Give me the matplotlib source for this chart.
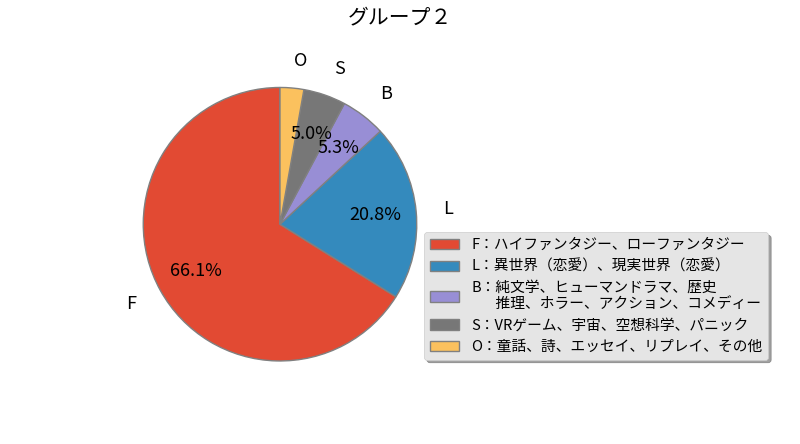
import matplotlib
matplotlib.use("Agg")
import matplotlib.pyplot as plt

plt.style.use('ggplot')
plt.rcParams['font.family'] = ['Noto Sans CJK JP', 'DejaVu Sans']

labels = ['F', 'L', 'B', 'S', 'O']
values = [66.1, 20.8, 5.3, 5.0, 2.8]
legend_labels = [
    'F：ハイファンタジー、ローファンタジー',
    'L：異世界（恋愛）、現実世界（恋愛）',
    'B：純文学、ヒューマンドラマ、歴史\n　   推理、ホラー、アクション、コメディー',
    'S：VRゲーム、宇宙、空想科学、パニック',
    'O：童話、詩、エッセイ、リプレイ、その他',
]
title = 'グループ２'

fig = plt.figure(figsize=(8, 4.44), dpi=100)
ax = fig.add_axes([109/800, 0.11, 342/800, 0.77])

def pct(p):
    return f'{p:.1f}%' if p >= 3 else ''

wedges, texts, autotexts = ax.pie(values, labels=labels, startangle=90,
                                  autopct=pct, pctdistance=0.7, labeldistance=1.2,
                                  wedgeprops=dict(edgecolor='gray', linewidth=1),
                                  textprops=dict(fontsize=13))
ax.set_aspect('equal')
fig.suptitle(title, fontsize=15, x=0.5, y=0.985)

leg = fig.legend(wedges, legend_labels, loc='upper left',
                 bbox_to_anchor=(0.521, 0.493), fontsize=10.6, shadow=True,
                 frameon=True)
fig.savefig('out.png', dpi=100)
